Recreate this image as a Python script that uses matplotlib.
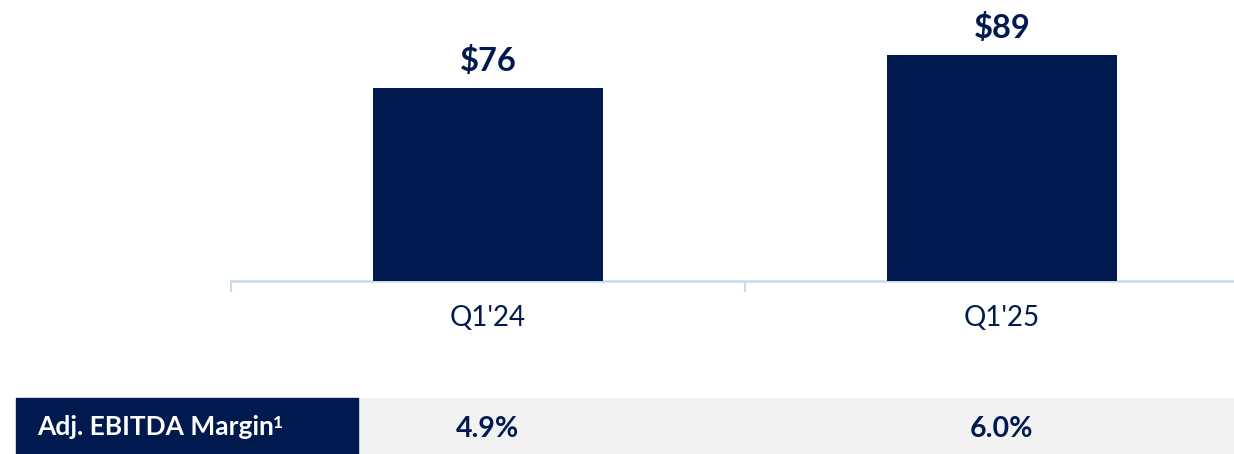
import matplotlib.pyplot as plt
from matplotlib.patches import Rectangle

# data
quarters = ["Q1'24", "Q1'25"]
ebitda = [76, 89]
value_labels = ["$76", "$89"]
margin_title = "Adj. EBITDA Margin"
margins = ["4.9%", "6.0%"]

navy = "#001A4F"
axis_blue = "#C6D9F1"
plt.rcParams['font.family'] = ['Lato', 'DejaVu Sans']

W, H = 1234, 454
fig = plt.figure(figsize=(W / 100, H / 100), dpi=100)

# bar axes: left edge at 231px, one category = 514px, baseline at 281px from top
ax = fig.add_axes([231 / W, (H - 281) / H, 1028 / W, 281 / H])
x = range(len(quarters))
bars = ax.bar(x, ebitda, width=0.447, color=navy, zorder=3)
ax.set_xlim(-0.5, 1.5)
ax.set_ylim(0, 110.5)

for b, lab in zip(bars, value_labels):
    ax.annotate(lab, (b.get_x() + b.get_width() / 2, b.get_height()),
                xytext=(0, 12), textcoords='offset points', ha='center', va='baseline',
                fontsize=23.5, fontweight='bold', color=navy)

for s in ['top', 'left', 'right']:
    ax.spines[s].set_visible(False)
ax.spines['bottom'].set_color(axis_blue)
ax.spines['bottom'].set_linewidth(1.8)
ax.set_yticks([])
ax.set_xticks(list(x))
ax.set_xticklabels(quarters, fontsize=20, color=navy)
ax.tick_params(axis='x', which='major', length=0, pad=17)
ax.set_xticks([-0.5, 0.5, 1.5], minor=True)
ax.tick_params(axis='x', which='minor', length=8, width=1.5, color=axis_blue)

# margin row below the chart
tx = ax.transData + fig.transFigure.inverted()
row_y0, row_y1 = (H - 454) / H, (H - 398) / H
fig.patches.append(Rectangle((358 / W, row_y0), (W - 358) / W, row_y1 - row_y0,
                             transform=fig.transFigure, color="#F2F2F2", zorder=-1))
fig.patches.append(Rectangle((16 / W, row_y0), (358 - 16) / W, row_y1 - row_y0,
                             transform=fig.transFigure, color=navy, zorder=-1))
t = fig.text(37 / W, (H - 435) / H, margin_title, ha='left', va='baseline',
             fontsize=19, fontweight='bold', color='white')
fig.canvas.draw()
bb = t.get_window_extent()
fig.text((bb.x1 - 1) / W, (H - 428) / H, "1", ha='left', va='baseline',
         fontsize=12.5, fontweight='bold', color='white')
for i, m in enumerate(margins):
    xf = tx.transform((i, 0))[0]
    fig.text(xf, (H - 437) / H, m, ha='center', va='baseline',
             fontsize=20.5, fontweight='bold', color=navy)

fig.savefig("out.png", dpi=100)
